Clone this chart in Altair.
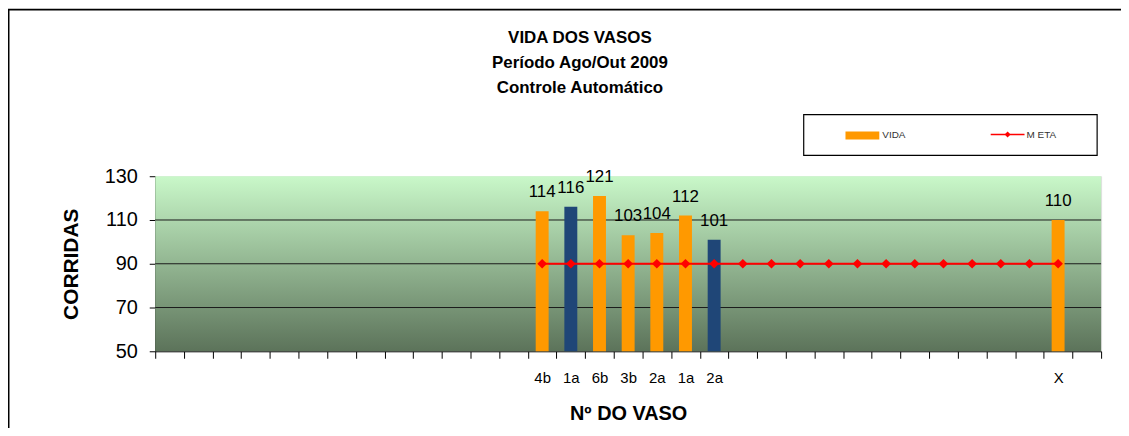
import json
import altair as alt
import pandas as pd

# ---- data ----
vaso = [""] * 13 + ["4b", "1a", "6b", "3b", "2a", "1a", "2a"] + [""] * 11 + ["X", ""]
vida = [None] * 13 + [114, 116, 121, 103, 104, 112, 101] + [None] * 11 + [110, None]
tipo = ["VIDA"] * 14 + ["VIDA_ESC"] + ["VIDA"] * 4 + ["VIDA_ESC"] + ["VIDA"] * 13
meta = [None] * 13 + [90] * 19 + [None]
y_ticks = [50, 70, 90, 110, 130]
gridlines = [70, 90, 110]
title_lines = ["VIDA DOS VASOS", "Período Ago/Out 2009", "Controle Automático"]

n = len(vaso)
df = pd.DataFrame({"idx": list(range(n)), "vaso": vaso, "vida": vida,
                   "tipo": tipo, "meta": meta})

W, H = 951, 176
FONT = "Liberation Sans"
label_expr = "[" + ",".join(json.dumps(v) for v in vaso) + "][datum.value]"

x_axis = alt.Axis(title="Nº DO VASO", labelExpr=label_expr, labelAngle=0,
                  tickBand="extent", tickSize=7, tickColor="black",
                  domainColor="black", labelFontSize=15, labelFont=FONT,
                  labelColor="black", labelPadding=12, titleFont=FONT,
                  titleFontSize=20, titleFontWeight="bold", titleColor="black",
                  titleY=63, titleBaseline="middle", grid=False)
x_enc = alt.X("idx:O", scale=alt.Scale(domain=list(range(n)), paddingInner=0, paddingOuter=0),
              axis=x_axis)
y_scale = alt.Scale(domain=[50, 130], zero=False, nice=False)
y_axis = alt.Axis(title="CORRIDAS", values=y_ticks, grid=False, tickSize=6,
                  tickColor="black", domainColor="black", labelFontSize=20,
                  labelFont=FONT, labelColor="black", labelPadding=12,
                  titleFont=FONT, titleFontSize=21, titleFontWeight="bold",
                  titleColor="black", titleAngle=270, titleX=-84, titleY=88,
                  titleAlign="center", titleBaseline="middle")

one = pd.DataFrame({"a": [0]})

background = alt.Chart(one).mark_rect(
    fill=alt.LinearGradient(gradient="linear", x1=0, x2=0, y1=0, y2=1,
                            stops=[alt.GradientStop(offset=0, color="#C9F8C9"),
                                   alt.GradientStop(offset=1, color="#5C735A")])
).encode(x=alt.value(0), x2=alt.value(W), y=alt.value(0), y2=alt.value(H))

grid = alt.Chart(pd.DataFrame({"g": gridlines})).mark_rule(color="#1a1a1a", strokeWidth=1).encode(
    y=alt.Y("g:Q", scale=y_scale, axis=y_axis), x=alt.value(0), x2=alt.value(W))

base = alt.Chart(df).encode(x=x_enc)

bars = base.mark_bar(size=13).encode(
    y=alt.Y("vida:Q", scale=y_scale, axis=y_axis),
    y2=alt.datum(50),
    color=alt.Color("tipo:N", scale=alt.Scale(domain=["VIDA", "VIDA_ESC"],
                                              range=["#FF9900", "#1F4677"]), legend=None)
).transform_filter("datum.vida != null")

meta_line = base.mark_line(color="#FF0000", strokeWidth=2).encode(
    y=alt.Y("meta:Q", scale=y_scale, axis=y_axis)).transform_filter("datum.meta != null")
meta_pts = base.mark_point(shape="diamond", filled=True, size=95, color="#FF0000", opacity=1).encode(
    y=alt.Y("meta:Q", scale=y_scale, axis=y_axis)).transform_filter("datum.meta != null")

labels = base.mark_text(baseline="alphabetic", dy=-14, fontSize=17, font=FONT, color="black").encode(
    y=alt.Y("vida:Q", scale=y_scale, axis=y_axis), text=alt.Text("vida:Q", format="d")
).transform_filter("datum.vida != null")

# title lines (decoration)
title_layers = []
for i, t in enumerate(title_lines):
    title_layers.append(
        alt.Chart(one).mark_text(text=t, fontSize=17, fontWeight="bold", font=FONT,
                                 color="black", align="center", baseline="alphabetic")
        .encode(x=alt.value(427), y=alt.value(-134 + 25 * i)))

# legend box (decoration)
leg_frame = alt.Chart(one).mark_rect(fill="white", stroke="black", strokeWidth=1.2).encode(
    x=alt.value(652), x2=alt.value(947), y=alt.value(-62), y2=alt.value(-21))
leg_vida_sw = alt.Chart(one).mark_rect(fill="#FF9900").encode(
    x=alt.value(694), x2=alt.value(728), y=alt.value(-45), y2=alt.value(-37))
leg_vida_tx = alt.Chart(one).mark_text(text="VIDA", fontSize=10, font=FONT, color="#333333",
                                       align="left", baseline="middle").encode(
    x=alt.value(731), y=alt.value(-41))
leg_meta_ln = alt.Chart(one).mark_rule(color="#FF0000", strokeWidth=1.5).encode(
    x=alt.value(840), x2=alt.value(874), y=alt.value(-42))
leg_meta_pt = alt.Chart(one).mark_point(shape="diamond", filled=True, size=35, color="#FF0000",
                                        opacity=1).encode(x=alt.value(857), y=alt.value(-42))
leg_meta_tx = alt.Chart(one).mark_text(text="M ETA", fontSize=10, font=FONT, color="#333333",
                                       align="left", baseline="middle").encode(
    x=alt.value(876), y=alt.value(-41))

# outer chart frame (decoration)
outer = alt.Chart(one).mark_rect(fill=None, stroke="black", strokeWidth=2).encode(
    x=alt.value(-147.5), x2=alt.value(1200), y=alt.value(-167.5), y2=alt.value(400))

chart = alt.layer(
    outer, background, grid, bars, meta_line, meta_pts, labels,
    *title_layers, leg_frame, leg_vida_sw, leg_vida_tx, leg_meta_ln, leg_meta_pt, leg_meta_tx
).properties(
    width=W, height=H,
    autosize=alt.AutoSizeParams(type="none"),
    padding={"left": 148, "top": 168, "right": 20, "bottom": 76},
).configure_view(stroke="#A0A0A0", strokeWidth=1).configure(background="white")

chart.save("out.html", embed_options={"renderer": "svg", "actions": False})
